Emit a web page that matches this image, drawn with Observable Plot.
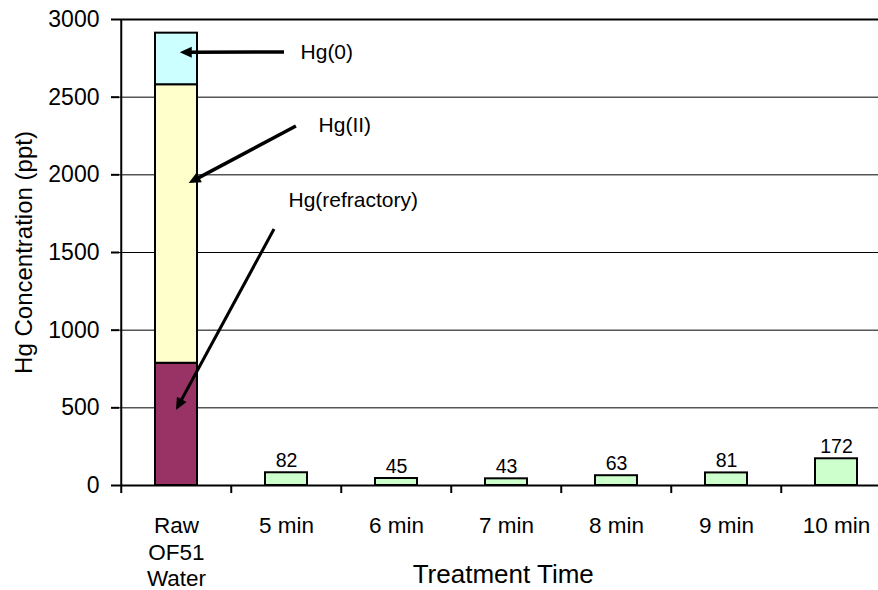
<!DOCTYPE html>
<html>
<head>
<meta charset="utf-8">
<script src="https://cdn.jsdelivr.net/npm/d3@7"></script>
<script src="https://cdn.jsdelivr.net/npm/@observablehq/plot@0.6"></script>
<style>
html, body { margin: 0; padding: 0; background: #fff; overflow: hidden; }
#chart svg { display: block; max-width: none; }
#chart g[aria-label^="y-axis"] line, #chart g[aria-label^="y-axis"] path { stroke-width: 2px; }
</style>
</head>
<body>
<div id="chart"></div>
<script>
// ---- data ----
const categories = ["Raw\nOF51\nWater", "5 min", "6 min", "7 min", "8 min", "9 min", "10 min"];
const species = ["Hg(refractory)", "Hg(II)", "Hg(0)"];
const rawValues = [787, 1793, 332];
const treatedCategories = ["5 min", "6 min", "7 min", "8 min", "9 min", "10 min"];
const treatedValues = [82, 45, 43, 63, 81, 172];
const yTicks = [0, 500, 1000, 1500, 2000, 2500, 3000];
const xTitle = "Treatment Time";
const yTitle = "Hg Concentration (ppt)";

// annotations (positions in data units: category + fraction of band from its centre, value)
const annotationLabels = ["Hg(0)", "Hg(II)", "Hg(refractory)"];
const labelCats = ["5 min", "5 min", "5 min"];
const labelOffsets = [0.127, 0.29, 0.018];
const labelValues = [2788, 2318, 1835];
const tailCats = ["5 min", "5 min", "5 min"];
const tailOffsets = [-0.018, 0.09, -0.109];
const tailValues = [2788, 2311, 1648];
const headCats = ["Raw\nOF51\nWater", "Raw\nOF51\nWater", "Raw\nOF51\nWater"];
const headOffsets = [0.034, 0.115, 0.0];
const headValues = [2786, 1944, 483];

// ---- styles ----
const speciesColors = ["#993366", "#FFFFCC", "#CCFFFF"];
const treatedColor = "#CCFFCC";
const arrowWidths = [3.5, 3.5, 3];
const font = "'Liberation Sans', Arial, Helvetica, sans-serif";

const W = 878, H = 590, mL = 119, mT = 19, mB = 105;
const band = 110.5;
const mR = W - mL - band * categories.length;

const rawRows = species.map((s, i) => ({category: categories[0], species: s, value: rawValues[i]}));
const treatedRows = treatedCategories.map((c, i) => ({category: c, value: treatedValues[i]}));
const annRows = annotationLabels.map((t, i) => ({text: t, cat: labelCats[i], off: labelOffsets[i], value: labelValues[i]}));

function drawArrows(index, scales) {
  const x = scales.x, y = scales.y;
  const bw = x.bandwidth ? x.bandwidth() : 0;
  const px = (cat, off) => x(cat) + bw * (0.5 + off);
  const g = d3.create("svg:g").attr("aria-label", "annotation arrows");
  for (let i = 0; i < annotationLabels.length; i++) {
    const x1 = px(tailCats[i], tailOffsets[i]), y1 = y(tailValues[i]);
    const x2 = px(headCats[i], headOffsets[i]), y2 = y(headValues[i]);
    const a = Math.atan2(y2 - y1, x2 - x1);
    const len = 12, half = 5.5;
    const bx = x2 - len * Math.cos(a), by = y2 - len * Math.sin(a);
    g.append("line")
      .attr("x1", x1).attr("y1", y1).attr("x2", bx + Math.cos(a)).attr("y2", by + Math.sin(a))
      .attr("stroke", "black").attr("stroke-width", arrowWidths[i]);
    g.append("path")
      .attr("d", `M${x2},${y2}L${bx + half * Math.sin(a)},${by - half * Math.cos(a)}L${bx - half * Math.sin(a)},${by + half * Math.cos(a)}Z`)
      .attr("fill", "black");
  }
  return g.node();
}

const chart = Plot.plot({
  width: W,
  height: H,
  marginLeft: mL,
  marginRight: mR,
  marginTop: mT,
  marginBottom: mB,
  style: {fontFamily: font, fontSize: "23px", color: "black", background: "white", overflow: "hidden"},
  x: {domain: categories, padding: 0, axis: null},
  y: {domain: [0, 3000], ticks: yTicks, tickSize: 8, tickPadding: 12, label: null, tickFormat: d => String(d)},
  color: {domain: species, range: speciesColors},
  marks: [
    Plot.ruleY(yTicks.filter(t => t > 0 && t < 3000), {y: d => d, stroke: "black", strokeWidth: 1}),
    Plot.ruleY([3000], {y: d => d, stroke: "black", strokeWidth: 2}),
    Plot.barY(rawRows, {x: "category", y: "value", fill: "species", stroke: "black", strokeWidth: 2, insetLeft: 34, insetRight: 34}),
    Plot.barY(treatedRows, {x: "category", y: "value", fill: treatedColor, stroke: "black", strokeWidth: 2, insetLeft: 34, insetRight: 34}),
    Plot.text(treatedRows, {x: "category", y: "value", text: d => String(d.value), dy: -12, fontSize: 19.5, fill: "black"}),
    Plot.ruleY([0], {y: d => d, stroke: "black", strokeWidth: 2}),
    Plot.ruleX([categories[0]], {x: d => d, dx: -band / 2, stroke: "black", strokeWidth: 2}),
    Plot.ruleX(categories, {x: d => d, y1: 0, y2: 0, insetBottom: -8, dx: -band / 2, stroke: "black", strokeWidth: 2}),
    Plot.text(categories, {x: d => d, text: d => d, frameAnchor: "bottom", lineAnchor: "top", textAnchor: "middle", dy: 29, fontSize: 22.5, lineHeight: 1.17, fill: "black"}),
    ...annRows.map(r => Plot.text([r], {x: "cat", y: "value", text: "text", dx: r.off * band, textAnchor: "start", fontSize: 21, fill: "black"})),
    drawArrows,
    Plot.text([xTitle], {text: d => d, frameAnchor: "bottom", lineAnchor: "middle", textAnchor: "middle", dy: 89, dx: -3, fontSize: 26, fill: "black"}),
    Plot.text([yTitle], {text: d => d, frameAnchor: "left", lineAnchor: "middle", textAnchor: "middle", rotate: -90, dx: -95, fontSize: 24, fill: "black"})
  ]
});
document.getElementById("chart").appendChild(chart);
</script>
</body>
</html>
